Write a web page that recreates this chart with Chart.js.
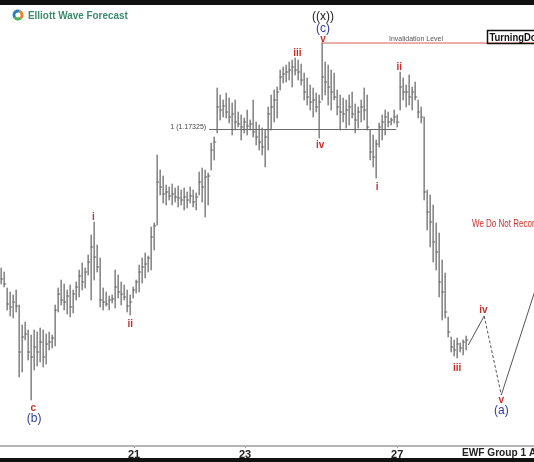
<!DOCTYPE html>
<html>
<head>
<meta charset="utf-8">
<script src="https://cdn.jsdelivr.net/npm/chart.js@4.4.0/dist/chart.umd.min.js"></script>
<style>
  html, body { margin: 0; padding: 0; background: #111; }
  #wrap { position: absolute; left: 0; top: 5px; width: 534px; height: 453px; background: #fff; overflow: hidden; }
</style>
</head>
<body>
<div id="wrap"><canvas id="ewChart"></canvas></div>
<script>
// bar highs / lows / closes (EURUSD)
var highs = [
  1.1594, 1.1590, 1.1574, 1.1570, 1.1567, 1.1572, 1.1557, 1.1537, 1.1540, 1.1532,
  1.1527, 1.1532, 1.1530, 1.1534, 1.1532, 1.1528, 1.1530, 1.1527, 1.1557, 1.1574,
  1.1582, 1.1578, 1.1572, 1.1577, 1.1572, 1.1580, 1.1592, 1.1599, 1.1594, 1.1607,
  1.1627, 1.1640, 1.1617, 1.1604, 1.1574, 1.1570, 1.1566, 1.1567, 1.1592, 1.1587,
  1.1580, 1.1577, 1.1572, 1.1567, 1.1575, 1.1582, 1.1597, 1.1604, 1.1609, 1.1606,
  1.1635, 1.1639, 1.1707, 1.1692, 1.1686, 1.1677, 1.1675, 1.1678, 1.1674, 1.1676,
  1.1672, 1.1674, 1.1670, 1.1675, 1.1672, 1.1669, 1.1690, 1.1694, 1.1692, 1.1689,
  1.1719, 1.1725, 1.1774, 1.1767, 1.1762, 1.1769, 1.1764, 1.1759, 1.1762, 1.1750,
  1.1747, 1.1744, 1.1752, 1.1742, 1.1762, 1.1740, 1.1737, 1.1734, 1.1732, 1.1755,
  1.1767, 1.1772, 1.1775, 1.1792, 1.1795, 1.1797, 1.1800, 1.1802, 1.1804, 1.1802,
  1.1798, 1.1789, 1.1784, 1.1777, 1.1774, 1.1769, 1.1767, 1.1819, 1.1800, 1.1797,
  1.1792, 1.1789, 1.1772, 1.1767, 1.1764, 1.1762, 1.1767, 1.1770, 1.1758, 1.1755,
  1.1762, 1.1774, 1.1767, 1.1732, 1.1727, 1.1722, 1.1739, 1.1747, 1.1752, 1.1750,
  1.1744, 1.1752, 1.1747, 1.1790, 1.1784, 1.1777, 1.1787, 1.1775, 1.1780, 1.1762,
  1.1755, 1.1745, 1.1672, 1.1667, 1.1657, 1.1639, 1.1629, 1.1602, 1.1589, 1.1545,
  1.1525, 1.1522, 1.1524, 1.1519, 1.1522, 1.1526
];
var lows = [
  1.1578, 1.1575, 1.1552, 1.1546, 1.1544, 1.1550, 1.1485, 1.1490, 1.1522, 1.1502,
  1.1462, 1.1492, 1.1496, 1.1500, 1.1495, 1.1498, 1.1512, 1.1514, 1.1516, 1.1550,
  1.1557, 1.1552, 1.1548, 1.1545, 1.1549, 1.1562, 1.1565, 1.1572, 1.1574, 1.1587,
  1.1562, 1.1582, 1.1590, 1.1555, 1.1552, 1.1556, 1.1552, 1.1559, 1.1554, 1.1564,
  1.1557, 1.1562, 1.1550, 1.1547, 1.1564, 1.1569, 1.1570, 1.1579, 1.1584, 1.1590,
  1.1592, 1.1612, 1.1637, 1.1667, 1.1659, 1.1657, 1.1662, 1.1657, 1.1660, 1.1655,
  1.1657, 1.1652, 1.1654, 1.1659, 1.1655, 1.1652, 1.1667, 1.1660, 1.1645, 1.1657,
  1.1692, 1.1702, 1.1729, 1.1742, 1.1745, 1.1744, 1.1739, 1.1727, 1.1732, 1.1735,
  1.1722, 1.1729, 1.1727, 1.1732, 1.1725, 1.1717, 1.1712, 1.1707, 1.1695, 1.1712,
  1.1732, 1.1740, 1.1744, 1.1772, 1.1779, 1.1780, 1.1782, 1.1775, 1.1787, 1.1782,
  1.1777, 1.1762, 1.1757, 1.1752, 1.1745, 1.1750, 1.1724, 1.1762, 1.1767, 1.1757,
  1.1752, 1.1762, 1.1747, 1.1732, 1.1740, 1.1734, 1.1737, 1.1744, 1.1729, 1.1734,
  1.1740, 1.1742, 1.1732, 1.1702, 1.1695, 1.1684, 1.1715, 1.1722, 1.1727, 1.1735,
  1.1737, 1.1739, 1.1735, 1.1752, 1.1762, 1.1755, 1.1757, 1.1752, 1.1762, 1.1744,
  1.1739, 1.1662, 1.1632, 1.1615, 1.1600, 1.1592, 1.1565, 1.1542, 1.1544, 1.1525,
  1.1510, 1.1506, 1.1504, 1.1510, 1.1507, 1.1512
];
var closes = [
  1.1583, 1.1578, 1.1558, 1.1555, 1.1560, 1.1556, 1.1510, 1.1525, 1.1528, 1.1510,
  1.1505, 1.1515, 1.1510, 1.1520, 1.1505, 1.1518, 1.1520, 1.1524, 1.1552, 1.1568,
  1.1562, 1.1560, 1.1566, 1.1555, 1.1568, 1.1575, 1.1586, 1.1580, 1.1590, 1.1600,
  1.1615, 1.1605, 1.1595, 1.1562, 1.1560, 1.1558, 1.1562, 1.1563, 1.1575, 1.1570,
  1.1568, 1.1565, 1.1556, 1.1560, 1.1572, 1.1580, 1.1590, 1.1595, 1.1598, 1.1604,
  1.1625, 1.1636, 1.1680, 1.1675, 1.1668, 1.1670, 1.1666, 1.1668, 1.1665, 1.1664,
  1.1662, 1.1665, 1.1662, 1.1666, 1.1660, 1.1665, 1.1680, 1.1675, 1.1685, 1.1686,
  1.1712, 1.1720, 1.1755, 1.1752, 1.1756, 1.1750, 1.1745, 1.1748, 1.1740, 1.1738,
  1.1735, 1.1740, 1.1736, 1.1738, 1.1730, 1.1725, 1.1720, 1.1715, 1.1725, 1.1748,
  1.1755, 1.1762, 1.1770, 1.1785, 1.1788, 1.1790, 1.1792, 1.1795, 1.1792, 1.1790,
  1.1782, 1.1770, 1.1765, 1.1760, 1.1762, 1.1755, 1.1760, 1.1785, 1.1780, 1.1775,
  1.1770, 1.1765, 1.1755, 1.1750, 1.1748, 1.1752, 1.1755, 1.1748, 1.1742, 1.1750,
  1.1755, 1.1752, 1.1735, 1.1710, 1.1705, 1.1718, 1.1735, 1.1740, 1.1745, 1.1740,
  1.1742, 1.1745, 1.1740, 1.1775, 1.1770, 1.1770, 1.1765, 1.1770, 1.1765, 1.1750,
  1.1745, 1.1670, 1.1650, 1.1640, 1.1620, 1.1610, 1.1580, 1.1570, 1.1550, 1.1530,
  1.1515, 1.1512, 1.1518, 1.1514, 1.1520, 1.1522
];

// x axis day labels (bar index where each day starts)
var tickIndex = [44.3, 81.3, 132];
var tickLabels = ['21', '23', '27'];

var fibLevel = 1.17325;
var fibFrom = 69.3, fibTo = 131.7;
var invalidationLevel = 1.1819;
var invalidationFrom = 106.7;

// projected path: iii -> iv -> v (a) -> up
var pathX = [155.7, 161, 166.7, 178];
var pathY = [1.1517, 1.1546, 1.1467, 1.1572];

// wave labels: text, bar index, price, kind
var waveText  = ['((x))', '(c)', 'v', 'iii', 'iv', 'ii', 'i', 'i', 'ii', 'c', '(b)', 'iii', 'iv', 'v', '(a)'];
var waveIndex = [107.3, 107.3, 107.3, 98.7, 106.3, 132.7, 125.3, 30.7, 43, 10.7, 11, 152, 160.7, 166.7, 166.7];
var wavePrice = [1.1845, 1.1833, 1.1823, 1.1809, 1.1717, 1.1795, 1.1675, 1.1645, 1.1538, 1.1454, 1.1443, 1.1494, 1.1552, 1.1462, 1.1451];
var waveKind  = ['black', 'blue', 'red', 'red', 'red', 'red', 'red', 'red', 'red', 'red', 'blue', 'red', 'red', 'red', 'blue'];

var RED = '#c9302c', BLUE = '#2d3c9e';
var FONT = '"Liberation Sans", Arial, sans-serif';

var bars = highs.map(function (h, i) { return { x: i, y: [lows[i], h] }; });
var closeTicks = closes.map(function (c, i) { return { x: i + 0.25, y: c }; });

function pts(xs, ys) { return xs.map(function (x, i) { return { x: x, y: ys[i] }; }); }

// text squeezed horizontally so it fits the same width as the original
function narrowText(ctx, text, x, y, sx) {
  ctx.save();
  ctx.translate(x, y);
  ctx.scale(sx, 1);
  ctx.fillText(text, 0, 0);
  ctx.restore();
}

var labelsPlugin = {
  id: 'ewLabels',
  afterDatasetsDraw: function (chart) {
    var ctx = chart.ctx, xs = chart.scales.x, ys = chart.scales.y;
    ctx.save();
    ctx.textBaseline = 'middle';

    // fib label
    ctx.fillStyle = '#444';
    ctx.font = '7px ' + FONT;
    ctx.textAlign = 'right';
    ctx.fillText('1 (1.17325)', xs.getPixelForValue(fibFrom) - 3, ys.getPixelForValue(fibLevel) - 2);

    // invalidation label
    ctx.fillStyle = '#555';
    ctx.textAlign = 'center';
    ctx.fillText('Invalidation Level', 416, ys.getPixelForValue(invalidationLevel) - 4);

    // wave labels
    for (var i = 0; i < waveText.length; i++) {
      var k = waveKind[i];
      if (k === 'red') { ctx.fillStyle = RED; ctx.font = 'bold 10px ' + FONT; }
      else if (k === 'blue') { ctx.fillStyle = BLUE; ctx.font = '12px ' + FONT; }
      else { ctx.fillStyle = '#222'; ctx.font = '12px ' + FONT; }
      ctx.fillText(waveText[i], xs.getPixelForValue(waveIndex[i]), ys.getPixelForValue(wavePrice[i]));
    }

    // logo
    var cx = 18, cy = 10, r = 4;
    ctx.lineWidth = 3;
    ctx.strokeStyle = '#2a7fc1'; ctx.beginPath(); ctx.arc(cx, cy, r, Math.PI * 0.8, Math.PI * 1.6); ctx.stroke();
    ctx.strokeStyle = '#e8862a'; ctx.beginPath(); ctx.arc(cx, cy, r, Math.PI * 1.6, Math.PI * 2.3); ctx.stroke();
    ctx.strokeStyle = '#4caf50'; ctx.beginPath(); ctx.arc(cx, cy, r, Math.PI * 0.3, Math.PI * 0.8); ctx.stroke();
    ctx.fillStyle = '#3a8c6b';
    ctx.font = 'bold 11px ' + FONT;
    ctx.textAlign = 'left';
    narrowText(ctx, 'Elliott Wave Forecast', 28, 10.5, 0.9);

    // TurningDo box
    ctx.lineWidth = 1.5;
    ctx.strokeStyle = '#111';
    ctx.strokeRect(487.5, 25.5, 60, 13);
    ctx.fillStyle = '#111';
    ctx.font = 'bold 11px ' + FONT;
    narrowText(ctx, 'TurningDo', 489.5, 32.5, 0.86);

    // disclaimer
    ctx.fillStyle = RED;
    ctx.font = '10px ' + FONT;
    narrowText(ctx, 'We Do Not Recom', 472, 219.5, 0.8);

    // footer
    ctx.fillStyle = '#222';
    ctx.font = 'bold 11px ' + FONT;
    narrowText(ctx, 'EWF Group 1 A', 462, 448, 0.92);
    ctx.restore();
  }
};

new Chart(document.getElementById('ewChart').getContext('2d'), {
  type: 'bar',
  data: {
    datasets: [
      { type: 'bar', data: bars, backgroundColor: '#8a8a8a', barThickness: 1, borderSkipped: false, order: 3 },
      { type: 'scatter', data: closeTicks, pointStyle: 'line', pointRadius: 1.3, borderWidth: 1, borderColor: '#666', order: 2 },
      { type: 'line', data: [{ x: fibFrom, y: fibLevel }, { x: fibTo, y: fibLevel }], borderColor: '#6b6b6b', borderWidth: 1, pointRadius: 0, order: 1 },
      { type: 'line', data: [{ x: invalidationFrom, y: invalidationLevel }, { x: 178, y: invalidationLevel }], borderColor: '#d95a5a', borderWidth: 1, pointRadius: 0, order: 1 },
      { type: 'line', data: pts(pathX.slice(0, 2), pathY.slice(0, 2)), borderColor: '#555', borderWidth: 1, pointRadius: 0, order: 1 },
      { type: 'line', data: pts(pathX.slice(1, 3), pathY.slice(1, 3)), borderColor: '#555', borderWidth: 1, borderDash: [3, 2], pointRadius: 0, order: 1 },
      { type: 'line', data: pts(pathX.slice(2, 4), pathY.slice(2, 4)), borderColor: '#555', borderWidth: 1, pointRadius: 0, order: 1 }
    ]
  },
  options: {
    responsive: true,
    maintainAspectRatio: false,
    animation: false,
    layout: { padding: 0, autoPadding: false },
    plugins: { legend: { display: false }, tooltip: { enabled: false } },
    scales: {
      x: {
        type: 'linear',
        offset: false,
        min: -0.4,
        max: 177.6,
        afterBuildTicks: function (scale) {
          scale.ticks = tickIndex.map(function (v) { return { value: v }; });
        },
        afterFit: function (scale) { scale.height = 12; },
        ticks: {
          padding: 0,
          color: '#222',
          font: { family: FONT, size: 11, weight: 'bold' },
          callback: function (v, i) { return tickLabels[i]; }
        },
        grid: { offset: false, drawOnChartArea: false, drawTicks: true, tickLength: 2, color: '#999' },
        border: { display: true, color: '#b5b5b5', width: 2 }
      },
      y: {
        display: false,
        min: 1.1416,
        max: 1.1857
      }
    }
  },
  plugins: [labelsPlugin]
});
</script>
</body>
</html>
